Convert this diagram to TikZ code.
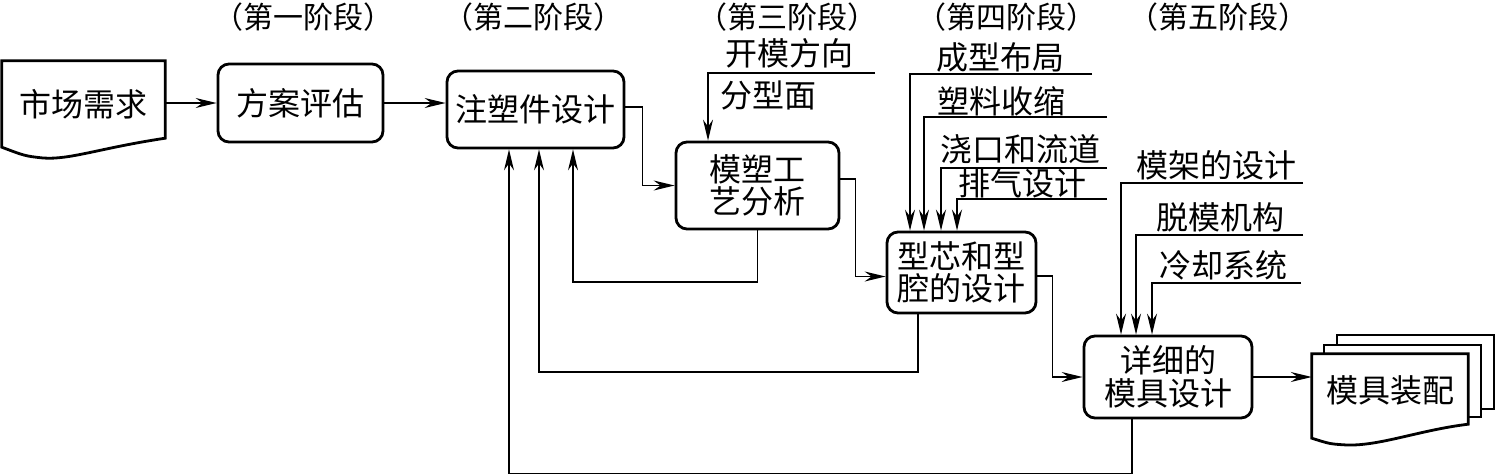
\documentclass[tikz,border=0pt]{standalone}
\usepackage{fontspec}
\setmainfont{Noto Sans CJK SC}
\usetikzlibrary{arrows.meta,calc}
\begin{document}
\begin{tikzpicture}[x=1pt,y=-1pt,
  thin line/.style={line width=1.4pt},
  arr/.style={thin line,-{Stealth[length=21pt,width=10pt,inset=7pt]}},
  box/.style={draw,line width=2.8pt,rounded corners=11pt,inner sep=0pt,align=center,
    font=\fontsize{32}{32.5}\selectfont},
  plain/.style={inner sep=0pt,align=center,font=\fontsize{32}{32.5}\selectfont},
  lab/.style={inner sep=0pt,font=\fontsize{32}{32}\selectfont},
  head/.style={inner sep=0pt,font=\fontsize{30}{30}\selectfont},
  doc/.style={line width=2.8pt,fill=white,line join=miter}]
\useasboundingbox (0,0) rectangle (1495,474);

% headers
\node[head] (h1) at (303,17) {（第一阶段）};
\node[head] (h2) at (533,17) {（第二阶段）};
\node[head] (h3) at (787,17) {（第三阶段）};
\node[head] (h4) at (1006,17) {（第四阶段）};
\node[head] (h5) at (1218,17) {（第五阶段）};

% market document
\node[plain,minimum width=163pt,minimum height=86pt] (sc) at (83.5,104) {};
\draw[doc] (sc.south west) -- (sc.north west) -- (sc.north east) -- ([yshift=9pt]sc.south east)
  .. controls (100,148) and (70,160) .. (43,158)
  .. controls (25,156) .. (sc.south west) -- cycle;
\node[plain] at (sc.center) {市场需求};

% boxes
\node[box,minimum width=165pt,minimum height=78pt] (fa) at (300.5,103) {方案评估};
\node[box,minimum width=177pt,minimum height=77pt] (zs) at (535.5,109.5) {注塑件设计};
\node[box,minimum width=163pt,minimum height=87pt] (ms) at (757.5,185.5) {模塑工\\艺分析};
\node[box,minimum width=149pt,minimum height=81pt] (xx) at (961.5,272.5) {型芯和型\\腔的设计};
\node[box,minimum width=168pt,minimum height=82pt] (xm) at (1168,377) {详细的\\模具设计};

% stacked documents
\draw[doc] (1337,409) -- (1337,335) -- (1494,335) -- (1494,409) -- cycle;
\draw[doc] (1324,417) -- (1324,345) -- (1481,345) -- (1481,417) -- cycle;
\node[plain,minimum width=156pt,minimum height=84pt] (mj) at (1390,396) {};
\draw[doc] (mj.south west) -- (mj.north west) -- (mj.north east) -- ([yshift=14pt]mj.south east)
  .. controls (1420,430) and (1380,446) .. (1347,445)
  .. controls (1330,444) .. (mj.south west) -- cycle;
\node[plain] at (1390,390) {模具装配};

% main flow
\draw[arr] (sc.east |- fa.west) -- (fa.west);
\draw[arr] (fa.east) -- (fa.east -| zs.west);
\draw[arr] ([yshift=2.5pt]zs.east) -- ++(17,0) |- (ms.west);
\draw[arr] ([yshift=6.5pt]ms.east) -- ++(15,0) |- ([yshift=-4pt]xx.west);
\draw[arr] ([yshift=-3.5pt]xx.east) -- ++(15,0) |- (xm.west);
\draw[arr] (xm.east) -- (xm.east -| mj.west);

% feedback
\coordinate (f1) at ([xshift=37.5pt]zs.south);
\coordinate (f2) at ([xshift=3.5pt]zs.south);
\coordinate (f3) at ([xshift=-26.5pt]zs.south);
\draw[arr] (ms.south) -- (ms.south |- 0,282) -| (f1);
\draw[arr] ([xshift=-43.5pt]xx.south) -- ++(0,57.5) -| (f2);
\draw[arr] ([xshift=-36pt]xm.south) -- ++(0,54) -| (f3);

% inputs stage 3
\coordinate (i1) at (875,73);
\draw[arr] (i1) -| ([xshift=-49.5pt]ms.north);
\node[lab] (l1) at (789,53) {开模方向};
\node[lab] (l2) at (768,95) {分型面};

% inputs stage 4
\coordinate (i2) at (1092,74);
\coordinate (i3) at (1107,117);
\coordinate (i4) at (1107,168);
\coordinate (i5) at (1107,199);
\draw[arr] (i2) -| ([xshift=-51.5pt]xx.north);
\draw[arr] (i3) -| ([xshift=-37.5pt]xx.north);
\draw[arr,line width=2.2pt] (i4) -| ([xshift=-20.5pt]xx.north);
\draw[arr,line width=2.2pt] (i5) -| ([xshift=-4.5pt]xx.north);
\node[lab] (l3) at (1000,57) {成型布局};
\node[lab] (l4) at (1001,101) {塑料收缩};
\node[lab] (l5) at (1020,149) {浇口和流道};
\node[lab] (l6) at (1022,183) {排气设计};

% inputs stage 5
\coordinate (i6) at (1303,183);
\coordinate (i7) at (1303,235);
\coordinate (i8) at (1301,283);
\draw[arr] (i6) -| ([xshift=-47pt]xm.north);
\draw[arr] (i7) -| ([xshift=-32pt]xm.north);
\draw[arr] (i8) -| ([xshift=-16pt]xm.north);
\node[lab] (l7) at (1216,165) {模架的设计};
\node[lab] (l8) at (1220,217) {脱模机构};
\node[lab] (l9) at (1223,265) {冷却系统};
\end{tikzpicture}
\end{document}
